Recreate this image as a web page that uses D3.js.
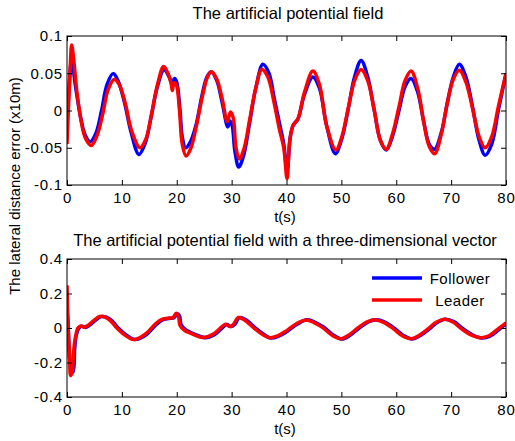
<!DOCTYPE html>
<html>
<head>
<meta charset="utf-8">
<script src="https://cdn.jsdelivr.net/npm/d3@7"></script>
<style>
	body { margin: 0; background: #fff; }
	svg { display: block; font-family: Arial, "Liberation Sans", Helvetica, sans-serif; }
	.tick text { font-size: 15px; letter-spacing: 0.8px; fill: #000; }
	.tick line { stroke: #000; }
	.title { font-size: 16.5px; }
	.label { font-size: 15px; }
	.legend text { font-size: 15px; letter-spacing: 0.5px; }
</style>
</head>
<body>
<svg id="chart" width="515" height="441"></svg>
<script>

// time stamps (s) and values for the top panel
const topFollowerT = [0, 0.3, 0.85, 1.5, 2.5, 3.3, 4.2, 5.3, 6.3, 7.3, 8.4, 9.3, 10.5, 11.7, 13.1, 14.2, 15.3, 16.4, 17.7, 18.6, 19.1, 19.6, 20.0, 20.6, 21.0, 21.6, 22.5, 23.5, 24.6, 25.5, 26.3, 27.3, 28.3, 29.3, 29.7, 30.1, 30.6, 31.3, 32.2, 33.2, 34.4, 35.7, 36.8, 37.8, 38.8, 39.5, 40.1, 40.7, 41.2, 42.1, 43.2, 44.8, 46.0, 47.3, 48.9, 50.0, 51.2, 52.4, 53.6, 54.8, 56.0, 57.1, 58.2, 59.3, 60.5, 61.6, 62.7, 63.9, 65.0, 66.0, 67.0, 68.2, 69.3, 70.4, 71.5, 72.7, 73.9, 75.1, 76.2, 77.4, 78.6, 80]
const topFollowerV = [-0.022, 0.02, 0.068, 0.035, -0.01, -0.033, -0.042, -0.03, 0.0, 0.035, 0.0495, 0.04, 0.01, -0.03, -0.059, -0.045, -0.01, 0.03, 0.055, 0.045, 0.038, 0.043, 0.038, 0.0, -0.035, -0.05, -0.042, -0.02, 0.02, 0.045, 0.052, 0.04, 0.01, -0.022, -0.014, -0.02, -0.055, -0.076, -0.06, -0.02, 0.03, 0.062, 0.05, 0.015, -0.02, -0.045, -0.081, -0.035, -0.02, -0.011, 0.02, 0.045, 0.03, -0.02, -0.058, -0.04, 0.0, 0.045, 0.067, 0.045, 0.0, -0.04, -0.053, -0.035, 0.0, 0.032, 0.043, 0.025, -0.015, -0.045, -0.052, -0.03, 0.01, 0.045, 0.062, 0.045, 0.005, -0.04, -0.06, -0.045, 0.0, 0.0495]

const topLeaderT = [0, 0.3, 0.6, 0.85, 1.2, 1.8, 2.6, 3.4, 4.4, 5.5, 6.5, 7.5, 8.6, 9.5, 10.6, 11.8, 13.3, 14.4, 15.4, 16.5, 17.6, 18.5, 19.0, 19.2, 19.5, 19.9, 20.5, 21.0, 21.7, 22.6, 23.6, 24.7, 25.6, 26.3, 27.3, 28.3, 29.2, 29.8, 30.3, 30.8, 31.4, 32.3, 33.3, 34.4, 35.5, 36.6, 37.7, 38.7, 39.5, 40.1, 40.6, 41.2, 42.1, 43.3, 44.8, 46.0, 47.3, 49.0, 50.1, 51.3, 52.5, 53.6, 54.8, 56.0, 57.1, 58.2, 59.3, 60.5, 61.6, 62.7, 63.9, 65.0, 66.0, 67.0, 68.2, 69.3, 70.4, 71.5, 72.7, 73.9, 75.1, 76.2, 77.4, 78.6, 80]
const topLeaderV = [-0.045, 0.01, 0.06, 0.088, 0.07, 0.025, -0.015, -0.038, -0.047, -0.033, -0.005, 0.028, 0.0415, 0.035, 0.01, -0.028, -0.05, -0.038, -0.005, 0.035, 0.059, 0.048, 0.035, 0.027, 0.037, 0.035, 0.0, -0.045, -0.061, -0.05, -0.02, 0.02, 0.045, 0.052, 0.042, 0.015, -0.015, -0.002, -0.01, -0.05, -0.065, -0.05, -0.012, 0.03, 0.055, 0.045, 0.012, -0.025, -0.05, -0.0915, -0.04, -0.02, -0.011, 0.025, 0.053, 0.035, -0.02, -0.053, -0.035, 0.005, 0.042, 0.055, 0.04, 0.0, -0.04, -0.052, -0.032, 0.005, 0.04, 0.053, 0.03, -0.015, -0.048, -0.058, -0.032, 0.01, 0.042, 0.054, 0.038, 0.003, -0.035, -0.05, -0.035, 0.005, 0.0495]

// bottom panel
const botLeaderT = [0, 0.15, 0.3, 0.5, 0.65, 0.95, 1.2, 1.5, 2.0, 2.5, 3.2, 4.0, 4.8, 6.0, 7.0, 8.0, 9.0, 10.5, 12.0, 13.0, 14.5, 16.0, 17.3, 18.7, 19.3, 19.9, 20.3, 20.6, 21.4, 22.5, 24.0, 25.0, 26.6, 27.8, 28.9, 29.7, 30.4, 31.2, 32.4, 34.2, 35.5, 36.9, 38.4, 39.9, 41.8, 43.6, 45.1, 46.6, 48.3, 49.9, 51.4, 53.0, 54.7, 56.3, 57.9, 59.5, 61.1, 62.7, 64.2, 65.8, 67.2, 68.7, 70.3, 71.9, 73.6, 75.4, 76.9, 78.4, 80]
const botLeaderV = [0.247, 0.06, -0.06, -0.19, -0.275, -0.255, -0.14, -0.06, 0.0, 0.012, 0.004, 0.02, 0.041, 0.067, 0.062, 0.04, 0.003, -0.04, -0.066, -0.06, -0.03, 0.02, 0.05, 0.058, 0.06, 0.085, 0.07, 0.015, -0.013, -0.03, -0.05, -0.055, -0.037, -0.005, 0.022, 0.008, 0.024, 0.061, 0.045, -0.004, -0.035, -0.056, -0.045, -0.018, 0.025, 0.047, 0.03, 0.002, -0.042, -0.062, -0.04, 0.0, 0.036, 0.047, 0.03, -0.005, -0.045, -0.062, -0.042, -0.005, 0.032, 0.05, 0.035, -0.005, -0.04, -0.056, -0.045, -0.01, 0.03]

const botFollowerT = [0, 0.15, 0.35, 0.55, 0.8, 1.1, 1.4, 1.7, 2.2, 2.7, 3.4, 4.2, 5.0, 6.2, 7.2, 8.2, 9.2, 10.7, 12.2, 13.2, 14.7, 16.2, 17.5, 18.9, 19.5, 20.1, 20.5, 20.8, 21.6, 22.7, 24.2, 25.2, 26.8, 28.0, 29.1, 29.9, 30.6, 31.4, 32.6, 34.4, 35.7, 37.1, 38.6, 40.1, 42.0, 43.8, 45.3, 46.8, 48.5, 50.1, 51.6, 53.2, 54.9, 56.5, 58.1, 59.7, 61.3, 62.9, 64.4, 66.0, 67.4, 68.9, 70.5, 72.1, 73.8, 75.6, 77.1, 78.6, 80]
const botFollowerV = [0.1, 0.05, -0.1, -0.21, -0.25, -0.255, -0.12, -0.04, 0.0, 0.01, 0.003, 0.018, 0.04, 0.066, 0.063, 0.042, 0.005, -0.038, -0.066, -0.062, -0.032, 0.018, 0.049, 0.057, 0.06, 0.083, 0.07, 0.018, -0.01, -0.028, -0.048, -0.056, -0.04, -0.008, 0.02, 0.008, 0.022, 0.06, 0.047, -0.002, -0.033, -0.058, -0.047, -0.02, 0.023, 0.048, 0.032, 0.004, -0.04, -0.064, -0.042, -0.002, 0.035, 0.048, 0.032, -0.003, -0.043, -0.064, -0.044, -0.007, 0.03, 0.051, 0.037, -0.003, -0.038, -0.058, -0.047, -0.012, 0.025]

const xTicks = [0, 10, 20, 30, 40, 50, 60, 70, 80]
const topYTicks = [-0.1, -0.05, 0, 0.05, 0.1]
const topYLabels = ['-0.1', '-0.05', '0', '0.05', '0.1']
const botYTicks = [-0.4, -0.2, 0, 0.2, 0.4]
const botYLabels = ['-0.4', '-0.2', '0', '0.2', '0.4']

const seriesNames = ['Follower', 'Leader']
const seriesColors = ['#0000ff', '#ff0000']

const svg = d3.select('#chart')

svg.append('rect')
	.attr('width', 515)
	.attr('height', 441)
	.attr('fill', '#fff')

function zip(t, v){
	return t.map((d, i) => [d, v[i]])
}

function makePanel(opts){

	const x = d3.scaleLinear().domain([0, 80]).range([opts.left, opts.right])
	const y = d3.scaleLinear().domain(opts.yDomain).range([opts.bottom, opts.top])

	const g = svg.append('g')

	const clipId = 'clip-' + opts.id
	g.append('clipPath')
		.attr('id', clipId)
		.append('rect')
		.attr('x', opts.left)
		.attr('y', opts.top)
		.attr('width', opts.right - opts.left)
		.attr('height', opts.bottom - opts.top)

	const line = d3.line()
		.x(d => x(d[0]))
		.y(d => y(d[1]))
		.curve(d3.curveCatmullRom.alpha(0.5))

	// follower first so leader sits on top
	opts.series.forEach((s, i) => {
		g.append('path')
			.datum(s)
			.attr('clip-path', `url(#${clipId})`)
			.attr('d', line)
			.attr('fill', 'none')
			.attr('stroke', seriesColors[i])
			.attr('stroke-width', 3.5)
			.attr('stroke-linejoin', 'round')
	})

	// axes, ticks pointing inward on all four sides
	g.append('g')
		.attr('transform', `translate(0,${opts.bottom})`)
		.call(d3.axisBottom(x).tickValues(xTicks).tickSize(-5).tickPadding(7))
		.call(a => a.select('.domain').remove())

	g.append('g')
		.attr('transform', `translate(0,${opts.top})`)
		.call(d3.axisTop(x).tickValues(xTicks).tickSize(-5).tickFormat(''))
		.call(a => a.select('.domain').remove())

	g.append('g')
		.attr('transform', `translate(${opts.left},0)`)
		.call(d3.axisLeft(y).tickValues(opts.yTicks).tickSize(-5).tickPadding(4)
			.tickFormat((d, i) => opts.yLabels[i]))
		.call(a => a.select('.domain').remove())

	g.append('g')
		.attr('transform', `translate(${opts.right},0)`)
		.call(d3.axisRight(y).tickValues(opts.yTicks).tickSize(-5).tickFormat(''))
		.call(a => a.select('.domain').remove())

	g.selectAll('.tick text').attr('font-family', null).attr('font-size', null)

	g.append('rect')
		.attr('x', opts.left)
		.attr('y', opts.top)
		.attr('width', opts.right - opts.left)
		.attr('height', opts.bottom - opts.top)
		.attr('fill', 'none')
		.attr('stroke', '#000')
		.attr('stroke-width', 1)

	g.append('text')
		.attr('class', 'title')
		.attr('x', opts.titleX)
		.attr('y', opts.titleY)
		.attr('text-anchor', 'middle')
		.text(opts.title)

	g.append('text')
		.attr('class', 'label')
		.attr('x', 285)
		.attr('y', opts.bottom + 37)
		.attr('text-anchor', 'middle')
		.text('t(s)')

	return {x, y, g}
}

makePanel({
	id: 'top',
	left: 67, right: 506, top: 36, bottom: 185,
	yDomain: [-0.1, 0.1],
	yTicks: topYTicks, yLabels: topYLabels,
	title: 'The artificial potential field',
	titleX: 288, titleY: 18.5,
	series: [zip(topFollowerT, topFollowerV), zip(topLeaderT, topLeaderV)]
})

makePanel({
	id: 'bot',
	left: 67, right: 506, top: 259, bottom: 397,
	yDomain: [-0.4, 0.4],
	yTicks: botYTicks, yLabels: botYLabels,
	title: 'The artificial potential field with a three-dimensional vector',
	titleX: 285, titleY: 246,
	series: [zip(botFollowerT, botFollowerV), zip(botLeaderT, botLeaderV)]
})

svg.append('text')
	.attr('class', 'label')
	.attr('transform', 'translate(19.5,186) rotate(-90)')
	.attr('text-anchor', 'middle')
	.text('The lateral distance error (x10m)')

// legend, no box
const legend = svg.append('g').attr('class', 'legend')

seriesNames.forEach((name, i) => {

	const ly = 278 + i * 22

	legend.append('line')
		.attr('x1', 372)
		.attr('x2', 422)
		.attr('y1', ly)
		.attr('y2', ly)
		.attr('stroke', seriesColors[i])
		.attr('stroke-width', 3.5)

	legend.append('text')
		.attr('x', 460)
		.attr('y', ly + 5.5)
		.attr('text-anchor', 'middle')
		.text(name)
})

</script>
</body>
</html>
